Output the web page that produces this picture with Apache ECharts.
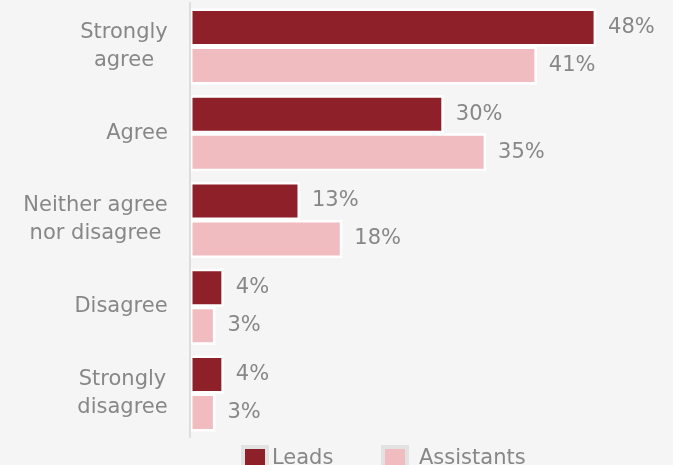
<!DOCTYPE html>
<html>
<head>
<meta charset="utf-8">
<script src="https://cdn.jsdelivr.net/npm/echarts@6/dist/echarts.min.js"></script>
<style>
  html, body { margin: 0; padding: 0; background: #f5f5f5; }
  #chart { width: 673px; height: 465px; }
</style>
</head>
<body>
<div id="chart"></div>
<script>
// Survey response categories, top to bottom
const categories = ['Strongly\nagree', 'Agree', 'Neither agree\nnor disagree', 'Disagree', 'Strongly\ndisagree'];
// Share of respondents (%) per group
const leads = [48, 30, 13, 4, 4];
const assistants = [41, 35, 18, 3, 3];
const seriesNames = ['Leads', 'Assistants'];

const FONT = 'DejaVu Sans';
const FONT_SIZE = 21;
const TEXT_COLOR = '#878787';

// Multi-line category labels: lines centred within the block, block right-aligned to the axis
const measureCtx = document.createElement('canvas').getContext('2d');
measureCtx.font = FONT_SIZE + 'px "' + FONT + '"';
function textWidth(s) { return measureCtx.measureText(s).width; }
const rich = {};
const labelKey = {};
categories.forEach(function (c, i) {
  const w = Math.max.apply(null, c.split('\n').map(textWidth));
  const key = 'c' + i;
  labelKey[c] = key;
  rich[key] = { width: Math.ceil(w), align: 'center', fontSize: FONT_SIZE, fontFamily: FONT, color: TEXT_COLOR, lineHeight: 28 };
});

const chart = echarts.init(document.getElementById('chart'), null, { renderer: 'canvas' });

const barLabel = {
  show: true,
  position: 'right',
  distance: 12,
  formatter: '{c}%',
  color: TEXT_COLOR,
  fontFamily: FONT,
  fontSize: FONT_SIZE
};

// One legend entry per component so each swatch sits at its own spot
function legendEntry(name, left, textPad) {
  return {
    data: [name],
    left: left,
    top: 445,
    padding: 0,
    icon: 'rect',
    itemWidth: 24,
    itemHeight: 24,
    textStyle: { color: TEXT_COLOR, fontSize: FONT_SIZE, fontFamily: FONT, padding: [0, 0, 0, textPad] },
    itemStyle: { borderColor: '#e2e2e2', borderWidth: 4 }
  };
}

chart.setOption({
  backgroundColor: '#f5f5f5',
  animation: false,
  textStyle: { fontFamily: FONT },
  grid: { left: 190, right: 60, top: 3, bottom: 28, containLabel: false },
  xAxis: {
    type: 'value',
    min: 0,
    max: 50,
    show: false
  },
  yAxis: {
    type: 'category',
    data: categories,
    inverse: true,
    z: 3,
    axisTick: { show: false },
    axisLine: { show: true, lineStyle: { color: '#dddddd', width: 2 } },
    axisLabel: {
      margin: 22,
      align: 'right',
      formatter: function (v) {
        const k = labelKey[v];
        return v.split('\n').map(function (l) { return '{' + k + '|' + l + '}'; }).join('\n');
      },
      rich: rich
    }
  },
  legend: [
    legendEntry(seriesNames[0], 241, 0),
    legendEntry(seriesNames[1], 381, 7)
  ],
  series: [
    {
      name: seriesNames[0],
      type: 'bar',
      data: leads,
      barWidth: 38,
      barGap: '0%',
      itemStyle: { color: '#8e2029', borderColor: '#ffffff', borderWidth: 2.5 },
      label: barLabel
    },
    {
      name: seriesNames[1],
      type: 'bar',
      data: assistants,
      barWidth: 38,
      barGap: '0%',
      itemStyle: { color: '#f0bcc0', borderColor: '#ffffff', borderWidth: 2.5 },
      label: barLabel
    }
  ]
});
</script>
</body>
</html>
